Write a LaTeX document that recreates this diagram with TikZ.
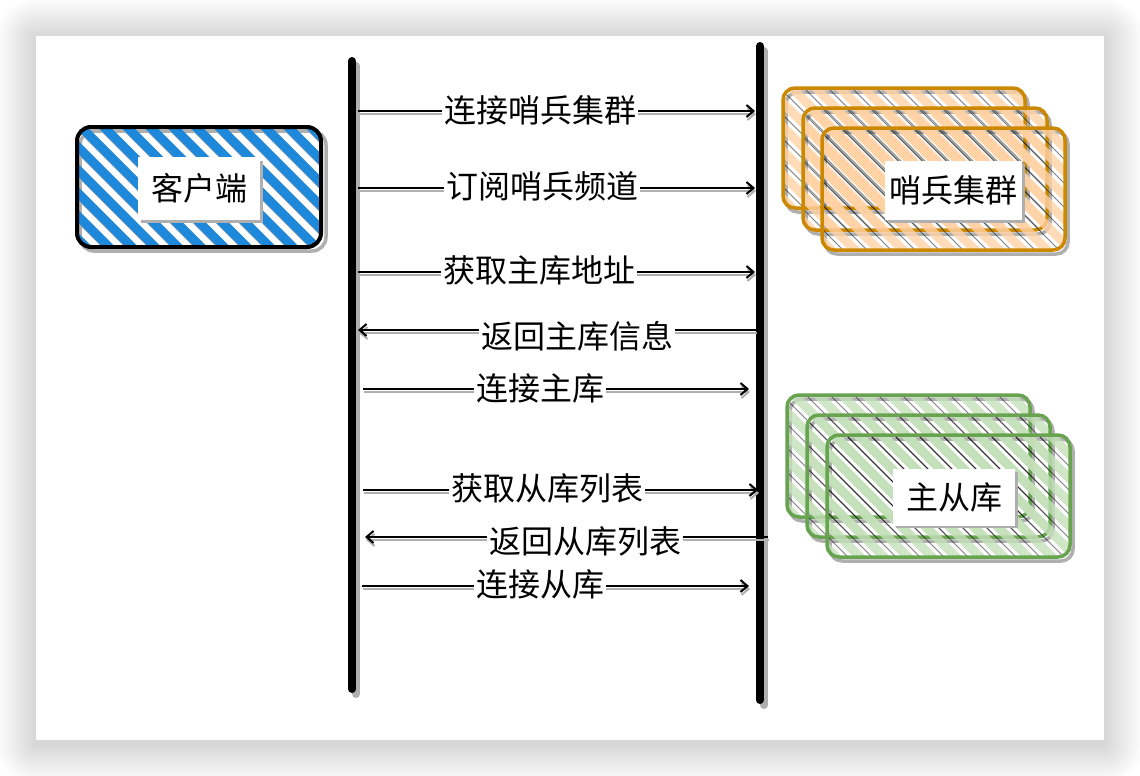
\documentclass[tikz,border=0pt]{standalone}
\usepackage{fontspec}
\setmainfont{Noto Sans CJK SC}
\usetikzlibrary{arrows.meta}
\definecolor{cblue}{RGB}{30,137,218}
\definecolor{corange}{RGB}{204,136,0}
\definecolor{corangel}{RGB}{255,210,165}
\definecolor{cgreen}{RGB}{104,163,80}
\definecolor{cgreenl}{RGB}{196,224,186}
\definecolor{shad}{RGB}{175,175,175}
\definecolor{thin}{RGB}{90,90,90}
% #1 x1, #2 y1, #3 x2, #4 y2, #5 style, #6 period
\newcommand\myhatch[6]{%
  \begin{scope}
    \clip[rounded corners=12pt] (#1,#2) rectangle (#3,#4);
    \pgfmathtruncatemacro\hsa{#1-(#4-#2)-20}
    \pgfmathtruncatemacro\hsb{\hsa+#6}
    \pgfmathtruncatemacro\hlen{#4-#2+20}
    \foreach \xx in {\hsa,\hsb,...,#3} \draw[#5] (\xx,#2-5) -- ++(\hlen,\hlen);
  \end{scope}}
\begin{document}
\begin{tikzpicture}[x=1pt,y=-1pt,
  lbl/.style={fill=white, inner xsep=2pt, inner ysep=1pt, font=\fontsize{32}{36}\selectfont, text=black},
  boxlbl/.style={fill=white, inner sep=0pt, font=\fontsize{32}{36}\selectfont, text=black},
  msg/.style={draw=black, line width=2pt, -{Straight Barb[length=7pt,width=12pt]}},
  msgsh/.style={draw=shad, line width=2pt, -{Straight Barb[length=7pt,width=12pt]}, transform canvas={shift={(1,3)}}},
  life/.style={line width=8pt, line cap=round, draw=black},
  lifesh/.style={line width=8pt, line cap=round, draw=shad, transform canvas={shift={(4,5)}}},
  rbox/.style={line width=3.5pt, rounded corners=12pt},
  rboxsh/.style={line width=3.5pt, rounded corners=12pt, draw=shad},
  blues/.style={cblue, line width=9pt},
  bluesh/.style={shad, line width=9pt, transform canvas={shift={(2,3)}}},
  orgs/.style={corangel, line width=9pt, opacity=.8},
  grns/.style={cgreenl, line width=9pt, opacity=.8},
  thins/.style={thin, line width=.8pt, opacity=.5},
]
% page and card shadow
\useasboundingbox (0,0) rectangle (1140,776);
\fill[white] (0,0) rectangle (1140,776);
\foreach \i in {1,...,40} \fill[black, opacity=0.0055, rounded corners=\i pt] (36-\i,38-\i) rectangle (1104+\i,744+\i);
\fill[white] (36,36) rectangle (1104,740);

% ---- lifelines
\coordinate (Lt) at (352,61);
\coordinate (Lb) at (352,689);
\coordinate (Rt) at (760,46);
\coordinate (Rb) at (760,700);
\draw[lifesh] (Lt) -- (Lb);
\draw[lifesh] (Rt) -- (Rb);
\draw[life] (Lt) -- (Lb);
\draw[life] (Rt) -- (Rb);

% ---- client box
\draw[rboxsh, rounded corners=14pt] (80,131) rectangle (326,251);
\myhatch{77}{127}{321}{246}{bluesh}{23}
\myhatch{77}{127}{321}{246}{blues}{23}
\node[draw=black, line width=4pt, rounded corners=14pt, minimum width=244pt, minimum height=120pt] (client) at (199,187) {};
\fill[shad] (141,161) rectangle (263,223);
\node[boxlbl, minimum width=122pt, minimum height=63pt] (clientlbl) at (199,188) {客户端};

% ---- sentinel stack
\draw[rboxsh] (786,92) rectangle (1028,212);
\draw[rboxsh] (806,112) rectangle (1050,234);
\draw[rboxsh] (825,132) rectangle (1068,254);
\myhatch{783}{88}{1025}{208}{thins, transform canvas={shift={(12,0)}}}{24}
\myhatch{783}{88}{1025}{208}{orgs}{24}
\node[draw=corange, rbox, minimum width=242pt, minimum height=120pt] (s1) at (904,148) {};
\myhatch{803}{108}{1047}{230}{thins, transform canvas={shift={(12,0)}}}{24}
\myhatch{803}{108}{1047}{230}{orgs}{24}
\node[draw=corange, rbox, minimum width=244pt, minimum height=122pt] (s2) at (925,169) {};
\myhatch{822}{128}{1065}{250}{thins, transform canvas={shift={(12,0)}}}{24}
\myhatch{822}{128}{1065}{250}{orgs}{24}
\node[draw=corange, rbox, minimum width=243pt, minimum height=122pt] (s3) at (943.5,189) {};
\fill[shad] (888,164) rectangle (1025,223);
\node[boxlbl, minimum width=137pt, minimum height=59pt] (slbl) at (953,190) {哨兵集群};

% ---- master/slave stack
\draw[rboxsh] (790,399) rectangle (1033,521);
\draw[rboxsh] (810,419) rectangle (1053,541);
\draw[rboxsh] (830,439) rectangle (1073,561);
\myhatch{787}{395}{1030}{517}{thins, transform canvas={shift={(12,0)}}}{24}
\myhatch{787}{395}{1030}{517}{grns}{24}
\node[draw=cgreen, rbox, minimum width=243pt, minimum height=122pt] (m1) at (908.5,456) {};
\myhatch{807}{415}{1050}{537}{thins, transform canvas={shift={(12,0)}}}{24}
\myhatch{807}{415}{1050}{537}{grns}{24}
\node[draw=cgreen, rbox, minimum width=243pt, minimum height=122pt] (m2) at (928.5,476) {};
\myhatch{827}{435}{1070}{557}{thins, transform canvas={shift={(12,0)}}}{24}
\myhatch{827}{435}{1070}{557}{grns}{24}
\node[draw=cgreen, rbox, minimum width=243pt, minimum height=122pt] (m3) at (948.5,496) {};
\fill[shad] (896,472) rectangle (1018,528);
\node[boxlbl, minimum width=122pt, minimum height=57pt] (mlbl) at (954,497) {主从库};

% ---- messages
\coordinate (a1) at (358,111); \coordinate (b1) at (755,111);
\coordinate (a2) at (358,188); \coordinate (b2) at (755,188);
\coordinate (a3) at (358,272); \coordinate (b3) at (755,272);
\coordinate (a4) at (756,330); \coordinate (b4) at (358,330);
\coordinate (a5) at (363,389); \coordinate (b5) at (749,389);
\coordinate (a6) at (363,490); \coordinate (b6) at (758,490);
\coordinate (a7) at (768,537); \coordinate (b7) at (365,537);
\coordinate (a8) at (362,586); \coordinate (b8) at (749,586);
\foreach \n in {1,...,8} {\draw[msgsh] (a\n) -- (b\n); \draw[msg] (a\n) -- (b\n);}
\node[lbl] (t1) at (540,110) {连接哨兵集群};
\node[lbl] (t2) at (542,186) {订阅哨兵频道};
\node[lbl] (t3) at (539,270) {获取主库地址};
\node[lbl] (t4) at (577,336) {返回主库信息};
\node[lbl] (t5) at (540,388) {连接主库};
\node[lbl] (t6) at (547,488) {获取从库列表};
\node[lbl] (t7) at (585,541) {返回从库列表};
\node[lbl] (t8) at (540,584) {连接从库};
\end{tikzpicture}
\end{document}
